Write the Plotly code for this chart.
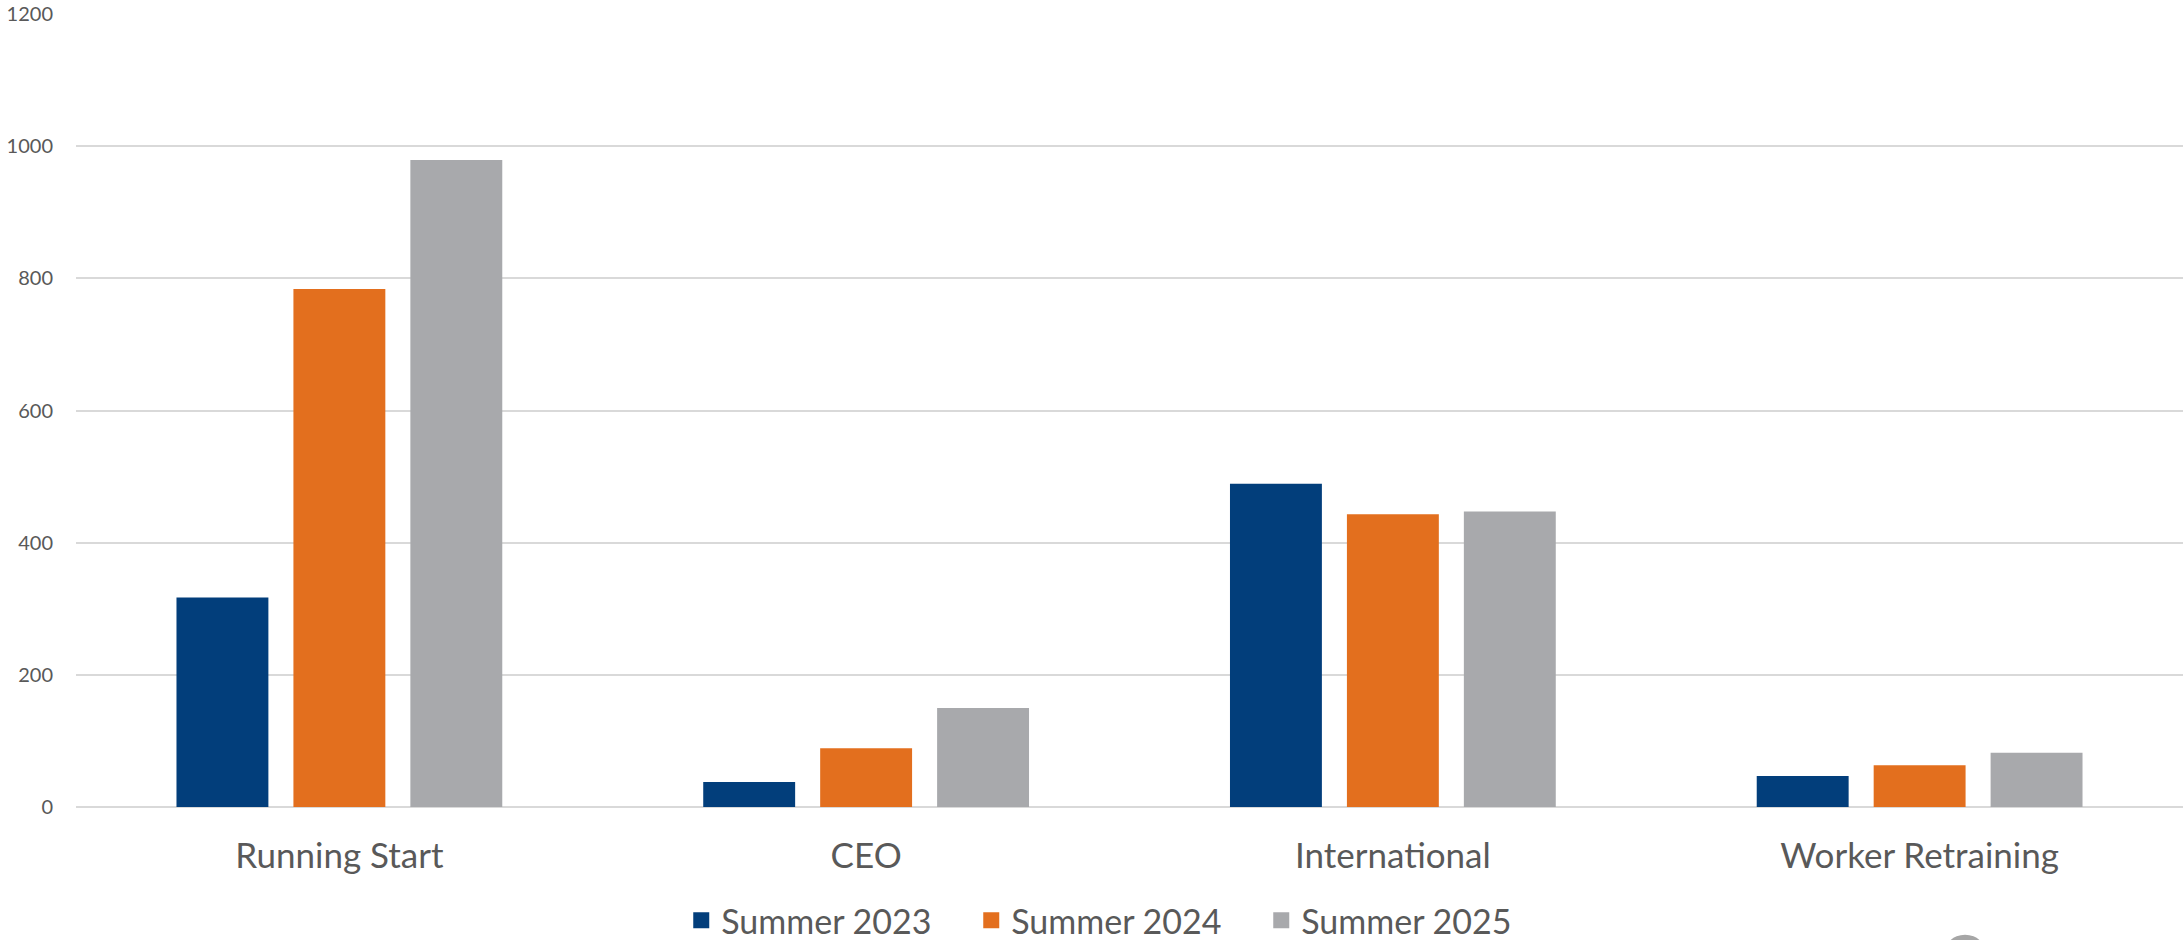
import plotly.graph_objects as go

categories = ["Running Start", "CEO", "International", "Worker Retraining"]
series_names = ["Summer 2023", "Summer 2024", "Summer 2025"]
summer_2023 = [317, 38, 489, 47]
summer_2024 = [784, 89, 443, 63]
summer_2025 = [979, 150, 447, 82]
y_ticks = [0, 200, 400, 600, 800, 1000, 1200]

colors = ["#023e7b", "#e36f1e", "#a8a9ac"]
FONT = "Lato, Carlito, Calibri, sans-serif"
TXT = "#595959"

W, H = 2183, 940
ML, MR, MT = 75.5, 0, 14
plot_h = 793.3
MB = H - MT - plot_h
plot_w = W - ML - MR

fig = go.Figure()
for name, vals, c in zip(series_names, [summer_2023, summer_2024, summer_2025], colors):
    fig.add_trace(go.Bar(x=categories, y=vals, name=name, showlegend=False,
                         marker=dict(color=c, line=dict(width=0))))
# legend entries with larger square swatches
for name, c in zip(series_names, colors):
    fig.add_trace(go.Scatter(x=[None], y=[None], name=name, mode="markers",
                             marker=dict(symbol="square", size=20, color=c),
                             showlegend=True))

fig.update_layout(
    width=W, height=H,
    margin=dict(l=ML, r=MR, t=MT, b=MB, autoexpand=False),
    paper_bgcolor="white", plot_bgcolor="white",
    barmode="group", bargap=0.334, bargroupgap=0.214,
    font=dict(family=FONT, color=TXT),
    showlegend=True,
    legend=dict(orientation="h", xanchor="center", x=(1116 - ML) / plot_w,
                yanchor="middle", y=(MT + plot_h - 921) / plot_h,
                font=dict(size=34, color=TXT, family=FONT),
                entrywidth=245, entrywidthmode="pixels",
                bgcolor="rgba(0,0,0,0)"),
    xaxis=dict(showgrid=False, showline=False, zeroline=False,
               tickfont=dict(size=35, color=TXT, family=FONT),
               ticks="", ticklabelstandoff=25),
    yaxis=dict(range=[0, 1200], tickvals=y_ticks, showgrid=True,
               gridcolor="#d9d9d9", gridwidth=1.5,
               zeroline=True, zerolinecolor="#d9d9d9", zerolinewidth=1.5,
               showline=False, ticks="",
               tickfont=dict(size=20, color=TXT, family=FONT),
               ticklabelstandoff=22),
)

# partially visible grey mark at bottom edge
cx, cy, r = 1965, 957, 22
fig.add_shape(type="circle", xref="paper", yref="paper",
              x0=(cx - r - ML) / plot_w, x1=(cx + r - ML) / plot_w,
              y0=(MT + plot_h - (cy + r)) / plot_h, y1=(MT + plot_h - (cy - r)) / plot_h,
              fillcolor="#a6a6a6", line=dict(width=0), layer="above")

fig.write_html("out.html", config={"displayModeBar": False},
               post_script=("document.body.style.margin='0';"
                            "document.body.style.overflow='hidden';"
                            "document.documentElement.style.overflow='hidden';"))
